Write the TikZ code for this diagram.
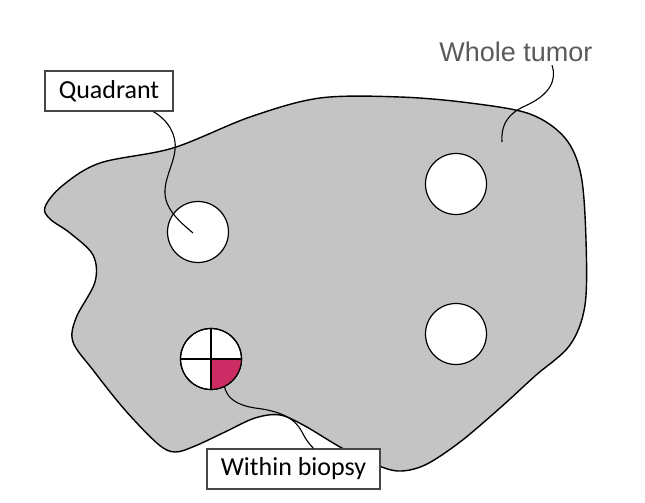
\documentclass[tikz,border=0pt]{standalone}
\usepackage{fontspec}
\newfontfamily\boxfont{Carlito}
\newfontfamily\tagfont{Liberation Sans}
\definecolor{tumorgray}{RGB}{196,196,196}
\definecolor{biopred}{RGB}{204,44,100}
\definecolor{labelgray}{RGB}{90,90,90}
\definecolor{boxline}{RGB}{70,70,70}

\begin{document}
\begin{tikzpicture}[
  x=0.5pt, y=-0.5pt,
  hole/.style={circle, draw=black, line width=0.6pt, fill=white, minimum size=30.5pt,
               inner sep=0pt, outer sep=0pt},
  tag/.style={draw=#1, line width=0.7pt, fill=white, minimum height=20pt, inner xsep=7pt,
              font=\boxfont\fontsize{13}{15}\selectfont},
  lead/.style={line width=0.55pt, draw=black}
]
  \useasboundingbox (0,0) rectangle (645,503);

  %-- Tumeur
  \filldraw[fill=tumorgray, draw=black, line width=0.7pt]
    plot[smooth cycle, tension=0.55] coordinates {
      (45,207) (62,186) (100,163) (173,148) (250,117) (320,98) (400,97) (470,103)
      (530,114) (565,138) (581,175) (586,240) (585,305) (570,345) (535,376) (500,408)
      (460,442) (425,465) (398,471) (372,463) (340,447) (305,426) (280,415) (255,418)
      (225,432) (195,446) (175,452) (158,444) (125,410) (93,370) (73,342) (76,318)
      (95,282) (93,255) (70,233) (50,219)};

  %-- Biopsies
  \node[hole] (q1) at (198,232) {};
  \node[hole] (q2) at (456,184) {};
  \node[hole] (q3) at (456,334) {};
  \node[hole] (q4) at (211,359) {};

  %-- Quadrant
  \begin{scope}
    \clip (q4.center) rectangle ++(40,40);
    \fill[biopred] (q4.center) circle[radius=15.25pt];
  \end{scope}
  \draw[line width=0.7pt] (q4.north) -- (q4.south);
  \draw[line width=0.7pt] (q4.west) -- (q4.east);
  \draw[line width=0.6pt] (q4.center) circle[radius=15.25pt];

  %-- Etiquettes
  \node[tag=boxline] (quad) at (109,91)    {Quadrant};
  \node[tag=boxline] (biop) at (293.5,469) {Within biopsy};
  \node[font=\tagfont\fontsize{13.5}{16}\selectfont, text=labelgray, inner sep=1.5pt]
       (whole) at (516,52) {Whole tumor};

  \coordinate (qtip) at (193,233);
  \coordinate (wtip) at (502,142);

  %-- Renvois
  \draw[lead] (quad.-25) .. controls (168,120) and (177,135) .. (175,150)
              .. controls (173,168) and (160,185) .. (167,203)
              .. controls (172,216) and (185,226) .. (qtip);
  \draw[lead] (q4.-64) .. controls (227,398) and (236,405) .. (255,408)
              .. controls (280,411) and (295,418) .. (302,432)
              .. controls (306,440) and (310,445) .. (biop.46);
  \draw[lead] ([xshift=18pt]whole.south) .. controls (557,80) and (550,95) .. (525,106)
              .. controls (505,115) and (501,128) .. (wtip);
\end{tikzpicture}
\end{document}
